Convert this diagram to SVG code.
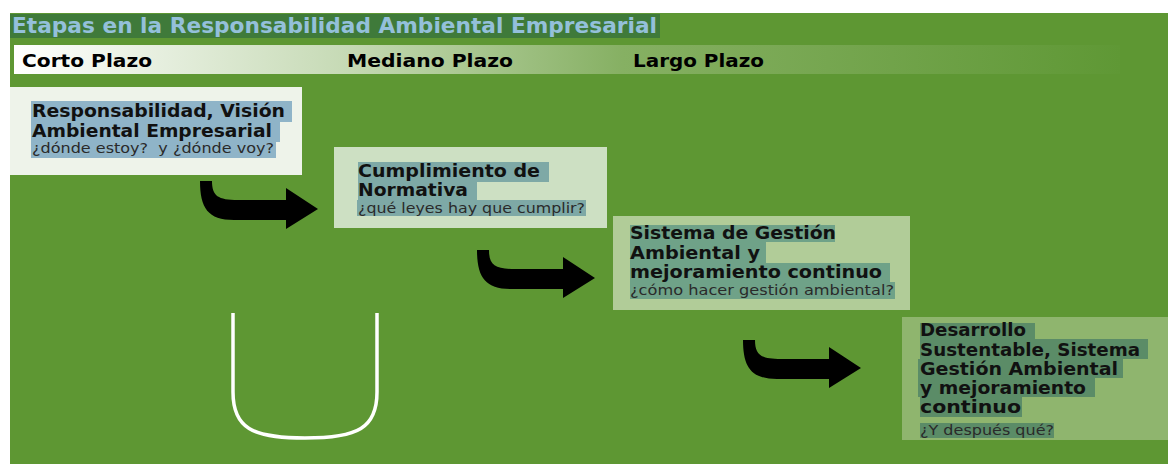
<svg xmlns="http://www.w3.org/2000/svg" width="1168" height="464" viewBox="0 0 1168 464">
<defs>
<linearGradient id="hdr" x1="14" y1="0" x2="1120" y2="0" gradientUnits="userSpaceOnUse">
<stop offset="0" stop-color="#ffffff"/>
<stop offset="0.3" stop-color="#c6dab5"/>
<stop offset="0.55" stop-color="#86b063"/>
<stop offset="1" stop-color="#5f9835"/>
</linearGradient>
<path id="arr" d="M200,181 L212,181 C212,196 218,200 238,200 L286,200 L286,188 L318,209 L286,229 L286,220 L234,220 C208,220 200,208 200,181 Z"/>
<style>
.h{font-family:"DejaVu Sans","Noto Sans",sans-serif;font-weight:bold;font-size:18px;fill:#111}
.s{font-family:"DejaVu Sans","Noto Sans",sans-serif;font-size:14.5px;fill:#2a2a2a}
.hd{font-family:"DejaVu Sans","Noto Sans",sans-serif;font-weight:bold;font-size:18px;fill:#000}
</style>
</defs>
<rect x="0" y="0" width="1168" height="464" fill="#ffffff"/>
<rect x="10" y="13" width="1158" height="451" fill="#5e9733"/>
<g id="title">
<rect x="10" y="14" width="650" height="24" fill="#3f7a3a"/>
<text x="12" y="33" font-family="DejaVu Sans, Noto Sans, sans-serif" font-weight="bold" font-size="20.5" fill="#94c0da" textLength="645" lengthAdjust="spacingAndGlyphs">Etapas en la Responsabilidad Ambiental Empresarial</text>
</g>
<g id="header">
<rect x="14" y="45" width="1106" height="29" fill="url(#hdr)"/>
<text class="hd" x="22" y="67" textLength="130" lengthAdjust="spacingAndGlyphs">Corto Plazo</text>
<text class="hd" x="347" y="67" textLength="166" lengthAdjust="spacingAndGlyphs">Mediano Plazo</text>
<text class="hd" x="633" y="67" textLength="131" lengthAdjust="spacingAndGlyphs">Largo Plazo</text>
</g>
<g id="node1">
<rect x="10" y="87" width="292" height="88" fill="#eef3ea"/>
<g fill="#8fb4c8">
<rect x="31" y="101" width="261" height="21"/>
<rect x="31" y="122" width="249" height="20"/>
<rect x="31" y="142" width="245" height="16"/>
</g>
<text class="h" x="32" y="117" textLength="253" lengthAdjust="spacingAndGlyphs">Responsabilidad, Visión</text>
<text class="h" x="32" y="137" textLength="240" lengthAdjust="spacingAndGlyphs">Ambiental Empresarial</text>
<text class="s" x="32" y="153" textLength="242" lengthAdjust="spacingAndGlyphs" xml:space="preserve">¿dónde estoy?  y ¿dónde voy?</text>
</g>
<g id="node2">
<rect x="334" y="147" width="273" height="81" fill="#cde0c3"/>
<g fill="#7ea9a6">
<rect x="358" y="162" width="191" height="20"/>
<rect x="358" y="182" width="119" height="18"/>
<rect x="357" y="200" width="229" height="16"/>
</g>
<text class="h" x="358" y="177" textLength="182" lengthAdjust="spacingAndGlyphs">Cumplimiento de</text>
<text class="h" x="358" y="196" textLength="110" lengthAdjust="spacingAndGlyphs">Normativa</text>
<text class="s" x="358" y="213" textLength="227" lengthAdjust="spacingAndGlyphs">¿qué leyes hay que cumplir?</text>
</g>
<g id="node3">
<rect x="613" y="216" width="297" height="94" fill="#b1cc98"/>
<g fill="#6fa288">
<rect x="630" y="225" width="205" height="17"/>
<rect x="630" y="242" width="136" height="21"/>
<rect x="630" y="263" width="260" height="19"/>
<rect x="630" y="282" width="265" height="17"/>
</g>
<text class="h" x="630" y="239" textLength="206" lengthAdjust="spacingAndGlyphs">Sistema de Gestión</text>
<text class="h" x="630" y="259" textLength="130" lengthAdjust="spacingAndGlyphs">Ambiental y</text>
<text class="h" x="630" y="278" textLength="252" lengthAdjust="spacingAndGlyphs">mejoramiento continuo</text>
<text class="s" x="630" y="295" textLength="264" lengthAdjust="spacingAndGlyphs">¿cómo hacer gestión ambiental?</text>
</g>
<g id="node4">
<rect x="902" y="317" width="266" height="123" fill="#8fb56e"/>
<g fill="#5b8c67">
<rect x="920" y="323" width="115" height="16"/>
<rect x="920" y="339" width="228" height="20"/>
<rect x="918" y="359" width="205" height="19"/>
<rect x="918" y="378" width="177" height="19"/>
<rect x="920" y="397" width="102" height="20"/>
<rect x="920" y="423" width="134" height="15"/>
</g>
<text class="h" x="920" y="336" textLength="106" lengthAdjust="spacingAndGlyphs">Desarrollo</text>
<text class="h" x="920" y="356" textLength="220" lengthAdjust="spacingAndGlyphs">Sustentable, Sistema</text>
<text class="h" x="920" y="375" textLength="198" lengthAdjust="spacingAndGlyphs">Gestión Ambiental</text>
<text class="h" x="920" y="394" textLength="166" lengthAdjust="spacingAndGlyphs">y mejoramiento</text>
<text class="h" x="920" y="413" textLength="101" lengthAdjust="spacingAndGlyphs">continuo</text>
<text class="s" x="920" y="435" textLength="134" lengthAdjust="spacingAndGlyphs">¿Y después qué?</text>
</g>
<g id="connectors" fill="#000">
<use href="#arr"/>
<use href="#arr" transform="translate(277,69)"/>
<use href="#arr" transform="translate(543,159)"/>
</g>
<path d="M233,313 L233,392 C233,428 252,438 305,438 C358,438 377,428 377,392 L377,313" fill="none" stroke="#ffffff" stroke-width="3.5"/>
</svg>
